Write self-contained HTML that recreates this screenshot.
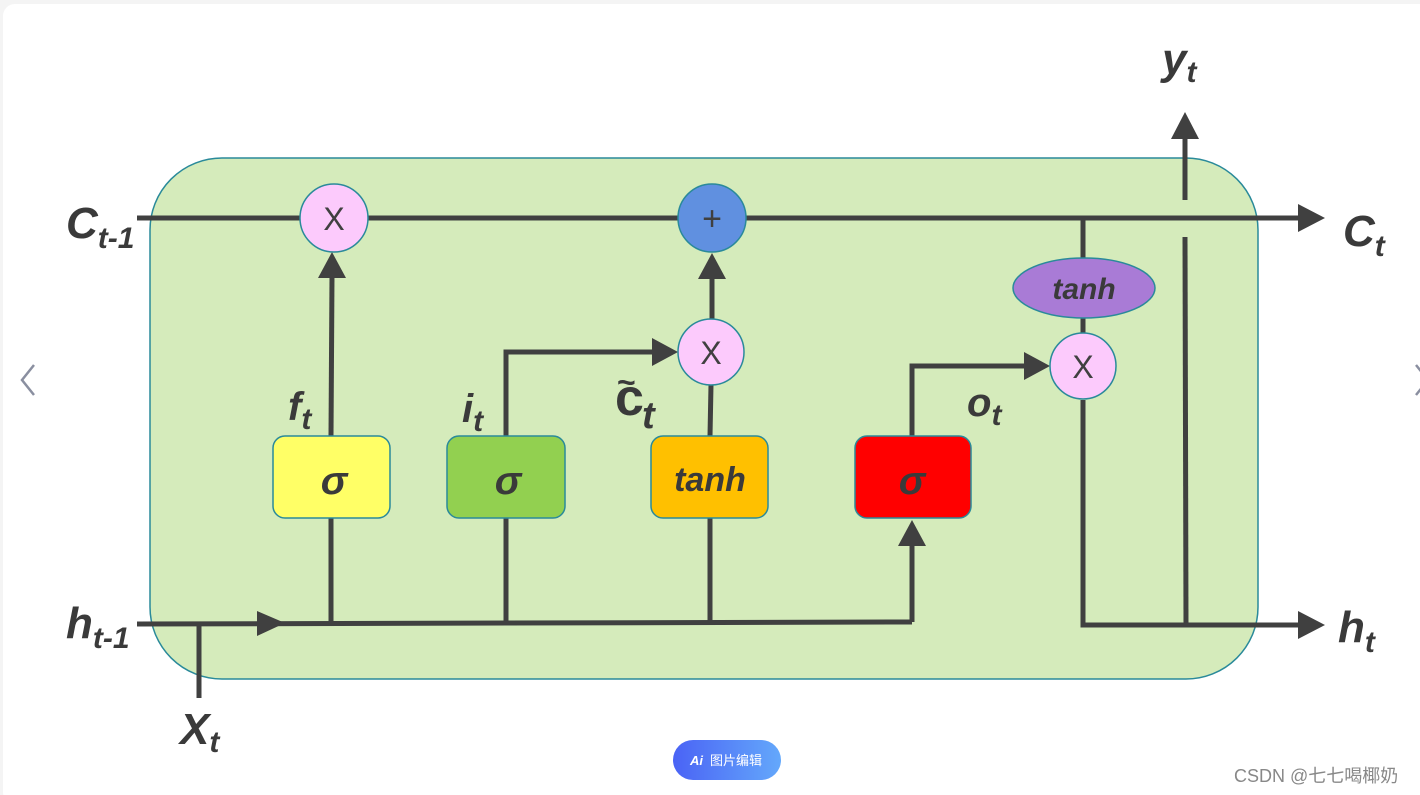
<!DOCTYPE html>
<html><head><meta charset="utf-8"><style>
html,body{margin:0;padding:0;background:#f4f4f4;}
svg{display:block;}
text{font-family:"Liberation Sans","Noto Sans CJK SC",sans-serif;}
</style></head><body>
<svg width="1420" height="795" viewBox="0 0 1420 795" xmlns="http://www.w3.org/2000/svg">
<rect x="0" y="0" width="1420" height="795" fill="#f4f4f4"/>
<rect x="3" y="4" width="1430" height="800" rx="12" fill="#ffffff"/>
<rect x="150" y="158" width="1108" height="521" rx="72" fill="#d5ebbb" stroke="#2a8a9a" stroke-width="1.5"/>
<g stroke="#404040" stroke-width="5" fill="none">
<line x1="137" y1="218" x2="1300" y2="218"/>
<line x1="137" y1="624" x2="912" y2="622"/>
<line x1="199" y1="624" x2="199" y2="698"/>
<line x1="331" y1="436" x2="332" y2="275"/>
<line x1="331" y1="518" x2="331" y2="624"/>
<polyline points="506,436 506,352 655,352"/>
<line x1="506" y1="518" x2="506" y2="624"/>
<line x1="710" y1="436" x2="711" y2="385"/>
<line x1="710" y1="518" x2="710" y2="624"/>
<line x1="712" y1="319" x2="712" y2="275"/>
<polyline points="912,622 912,542"/>
<polyline points="912,436 912,366 1025,366"/>
<line x1="1083" y1="218" x2="1083" y2="258"/>
<line x1="1083" y1="318" x2="1083" y2="333"/>
<polyline points="1083,400 1083,625 1300,625"/>
<line x1="1186" y1="625" x2="1185" y2="237"/>
<line x1="1185" y1="200" x2="1185" y2="138"/>
</g>
<g fill="#404040">
<path d="M1298,204 L1325,218 L1298,232z"/>
<path d="M1298,611 L1325,625 L1298,639z"/>
<path d="M257,611 L285,623 L257,636z"/>
<path d="M318,278 L332,252 L346,278z"/>
<path d="M698,279 L712,253 L726,279z"/>
<path d="M652,338 L678,352 L652,366z"/>
<path d="M1024,352 L1050,366 L1024,380z"/>
<path d="M898,546 L912,520 L926,546z"/>
<path d="M1171,139 L1185,112 L1199,139z"/>
</g>
<g stroke="#2a8a9a" stroke-width="1.5">
<circle cx="334" cy="218" r="34" fill="#fccafc"/>
<circle cx="712" cy="218" r="34" fill="#6090e0"/>
<circle cx="711" cy="352" r="33" fill="#fccafc"/>
<circle cx="1083" cy="366" r="33" fill="#fccafc"/>
<ellipse cx="1084" cy="288" rx="71" ry="30" fill="#a97bd6"/>
<rect x="273" y="436" width="117" height="82" rx="12" fill="#ffff66"/>
<rect x="447" y="436" width="118" height="82" rx="12" fill="#92d050"/>
<rect x="651" y="436" width="117" height="82" rx="12" fill="#ffc000"/>
<rect x="855" y="436" width="116" height="82" rx="12" fill="#ff0000"/>
</g>
<g fill="#404040" font-size="32" text-anchor="middle">
<text x="334" y="230">X</text>
<text x="711" y="364">X</text>
<text x="1083" y="378">X</text>
<text x="712" y="230" font-size="34">+</text>
</g>
<g fill="#3a3a3a" font-weight="bold" font-style="italic" text-anchor="middle">
<text x="334" y="494" font-size="40">σ</text>
<text x="508" y="494" font-size="40">σ</text>
<text x="912" y="494" font-size="40">σ</text>
<text x="710" y="491" font-size="34">tanh</text>
<text x="1084" y="299" font-size="30">tanh</text>
</g>
<g fill="#3a3a3a" font-weight="bold" font-style="italic">
<text x="66" y="238" font-size="44">C<tspan font-size="30" dy="10">t-1</tspan></text>
<text x="66" y="638" font-size="44">h<tspan font-size="30" dy="10">t-1</tspan></text>
<text x="1343" y="246" font-size="44">C<tspan font-size="30" dy="10">t</tspan></text>
<text x="1338" y="642" font-size="44">h<tspan font-size="30" dy="10">t</tspan></text>
<text x="1162" y="74" font-size="44">y<tspan font-size="30" dy="8">t</tspan></text>
<text x="180" y="744" font-size="44">X<tspan font-size="30" dy="8">t</tspan></text>
<text x="288" y="420" font-size="40">f<tspan font-size="30" dy="9">t</tspan></text>
<text x="462" y="422" font-size="40">i<tspan font-size="30" dy="9">t</tspan></text>
<text x="967" y="416" font-size="40">o<tspan font-size="30" dy="9">t</tspan></text>
</g>
<g fill="#3a3a3a" font-weight="bold">
<text x="615" y="415" font-size="52" font-family="Liberation Serif, serif">c</text>
<text x="642" y="428" font-size="38" font-style="italic" font-family="Liberation Serif, serif">t</text>
<text x="617" y="393" font-size="32">~</text>
</g>
<polyline points="34,365 22,380 34,395" fill="none" stroke="#8a8fa0" stroke-width="2.5"/>
<polyline points="1416,365 1428,380 1416,395" fill="none" stroke="#8a8fa0" stroke-width="2.5"/>
<defs><linearGradient id="g" x1="0" x2="1"><stop offset="0" stop-color="#4a63f5"/><stop offset="1" stop-color="#64a8fb"/></linearGradient></defs>
<rect x="673" y="740" width="108" height="40" rx="20" fill="url(#g)"/>
<text x="690" y="765" font-size="13" fill="#fff" font-weight="bold" font-style="italic">Ai</text>
<text x="710" y="765" font-size="13" fill="#fff">图片编辑</text>
<text x="1234" y="782" font-size="18" fill="#888">CSDN @七七喝椰奶</text>
</svg>
</body></html>
